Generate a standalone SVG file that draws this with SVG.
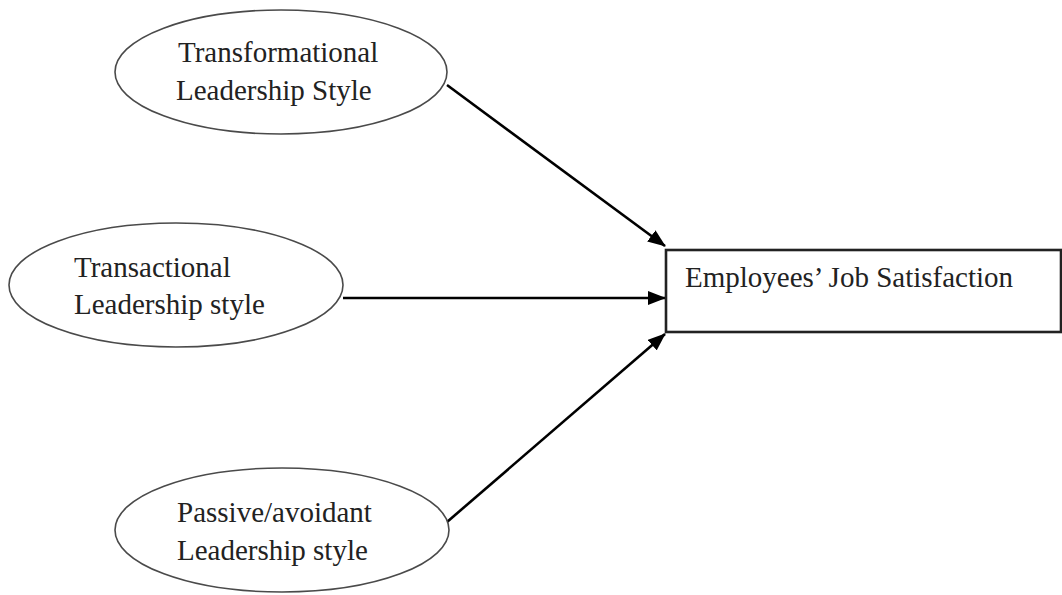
<svg xmlns="http://www.w3.org/2000/svg" width="1062" height="595" viewBox="0 0 1062 595">
<style>
.node ellipse{fill:#fff;stroke:#4a4a4a;stroke-width:1.6}
.node rect{fill:#fff;stroke:#222;stroke-width:2.6}
text{font-family:"Liberation Serif","Times New Roman",serif;font-size:29px;fill:#222}
.conn line{stroke:#000;stroke-width:2.6}
</style>
<defs>
<marker id="ah" markerUnits="userSpaceOnUse" markerWidth="18" markerHeight="14" refX="17" refY="7" orient="auto">
<path d="M0,0 L18,7 L0,14 Z" fill="#000"/>
</marker>
</defs>
<rect width="1062" height="595" fill="#fff"/>
<g class="conn" id="connectors">
<line x1="447" y1="85" x2="665" y2="246" marker-end="url(#ah)"/>
<line x1="343" y1="298" x2="665" y2="298" marker-end="url(#ah)"/>
<line x1="447" y1="522" x2="665" y2="334" marker-end="url(#ah)"/>
</g>
<g class="node" id="n-transformational">
<ellipse cx="281" cy="72" rx="166" ry="62"/>
<text x="178" y="62">Transformational</text>
<text x="176" y="100">Leadership Style</text>
</g>
<g class="node" id="n-transactional">
<ellipse cx="176" cy="285" rx="167" ry="62"/>
<text x="74" y="277">Transactional</text>
<text x="74" y="314">Leadership style</text>
</g>
<g class="node" id="n-passive">
<ellipse cx="282" cy="530" rx="167" ry="62"/>
<text x="177" y="522">Passive/avoidant</text>
<text x="177" y="560">Leadership style</text>
</g>
<g class="node" id="n-satisfaction">
<rect x="666" y="250" width="395" height="82"/>
<text x="685" y="287">Employees’ Job Satisfaction</text>
</g>
</svg>
